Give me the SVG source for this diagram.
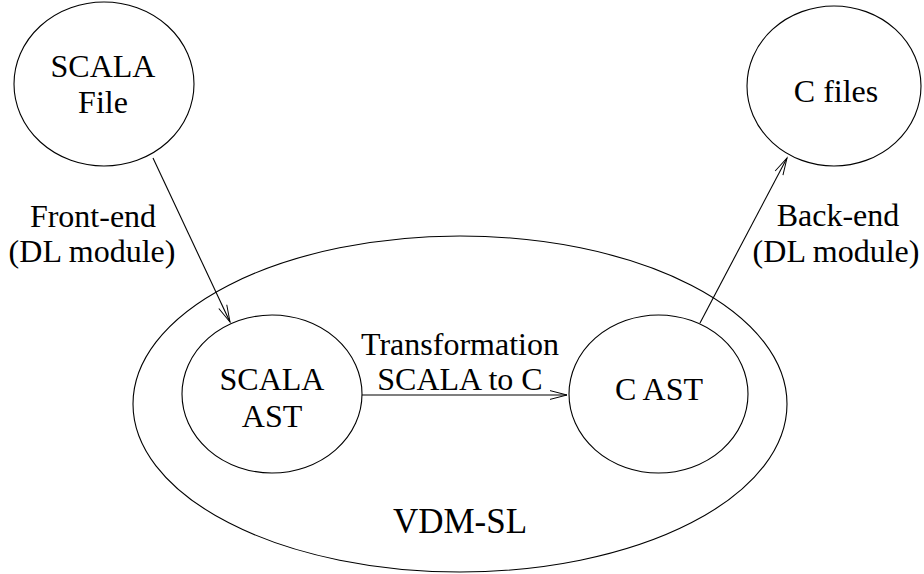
<svg xmlns="http://www.w3.org/2000/svg" width="924" height="574" viewBox="0 0 924 574">
<defs>
<marker id="arr" markerUnits="userSpaceOnUse" markerWidth="22" markerHeight="12" refX="18" refY="6" orient="auto" viewBox="0 0 22 12">
<path d="M1,1.6 L18,6 L1,10.4" fill="none" stroke="#000" stroke-width="1"/>
</marker>
</defs>
<style>
ellipse{fill:none;stroke:#000;stroke-width:1.1}
.c{stroke:#000;stroke-width:1.1;fill:none;marker-end:url(#arr)}
</style>
<rect width="924" height="574" fill="#fff"/>
<g font-family="'Liberation Serif', 'Times New Roman', serif" font-size="32" text-anchor="middle" fill="#000">
<g id="vdmsl">
<ellipse cx="460" cy="404" rx="327" ry="168"/>
<text x="460" y="533" font-size="35">VDM-SL</text>
</g>
<g id="scala-file">
<ellipse cx="104" cy="84" rx="90" ry="82"/>
<text x="103" y="77">SCALA</text>
<text x="103" y="113">File</text>
</g>
<g id="c-files">
<ellipse cx="834" cy="86" rx="87" ry="80"/>
<text x="836" y="102">C files</text>
</g>
<g id="scala-ast">
<ellipse cx="272" cy="394" rx="90" ry="79"/>
<text x="272" y="390">SCALA</text>
<text x="272" y="427">AST</text>
</g>
<g id="c-ast">
<ellipse cx="658.5" cy="394" rx="89.5" ry="79"/>
<text x="659" y="400">C AST</text>
</g>
<g id="connectors">
<line class="c" x1="153" y1="158" x2="230" y2="322"/>
<line class="c" x1="700" y1="323" x2="787" y2="158"/>
<line class="c" x1="362" y1="395" x2="567" y2="395"/>
</g>
<g id="labels">
<text x="93" y="227">Front-end</text>
<text x="92" y="262">(DL module)</text>
<text x="838" y="226">Back-end</text>
<text x="836" y="262">(DL module)</text>
<text x="460" y="355">Transformation</text>
<text x="460" y="390">SCALA to C</text>
</g>
</g>
</svg>
